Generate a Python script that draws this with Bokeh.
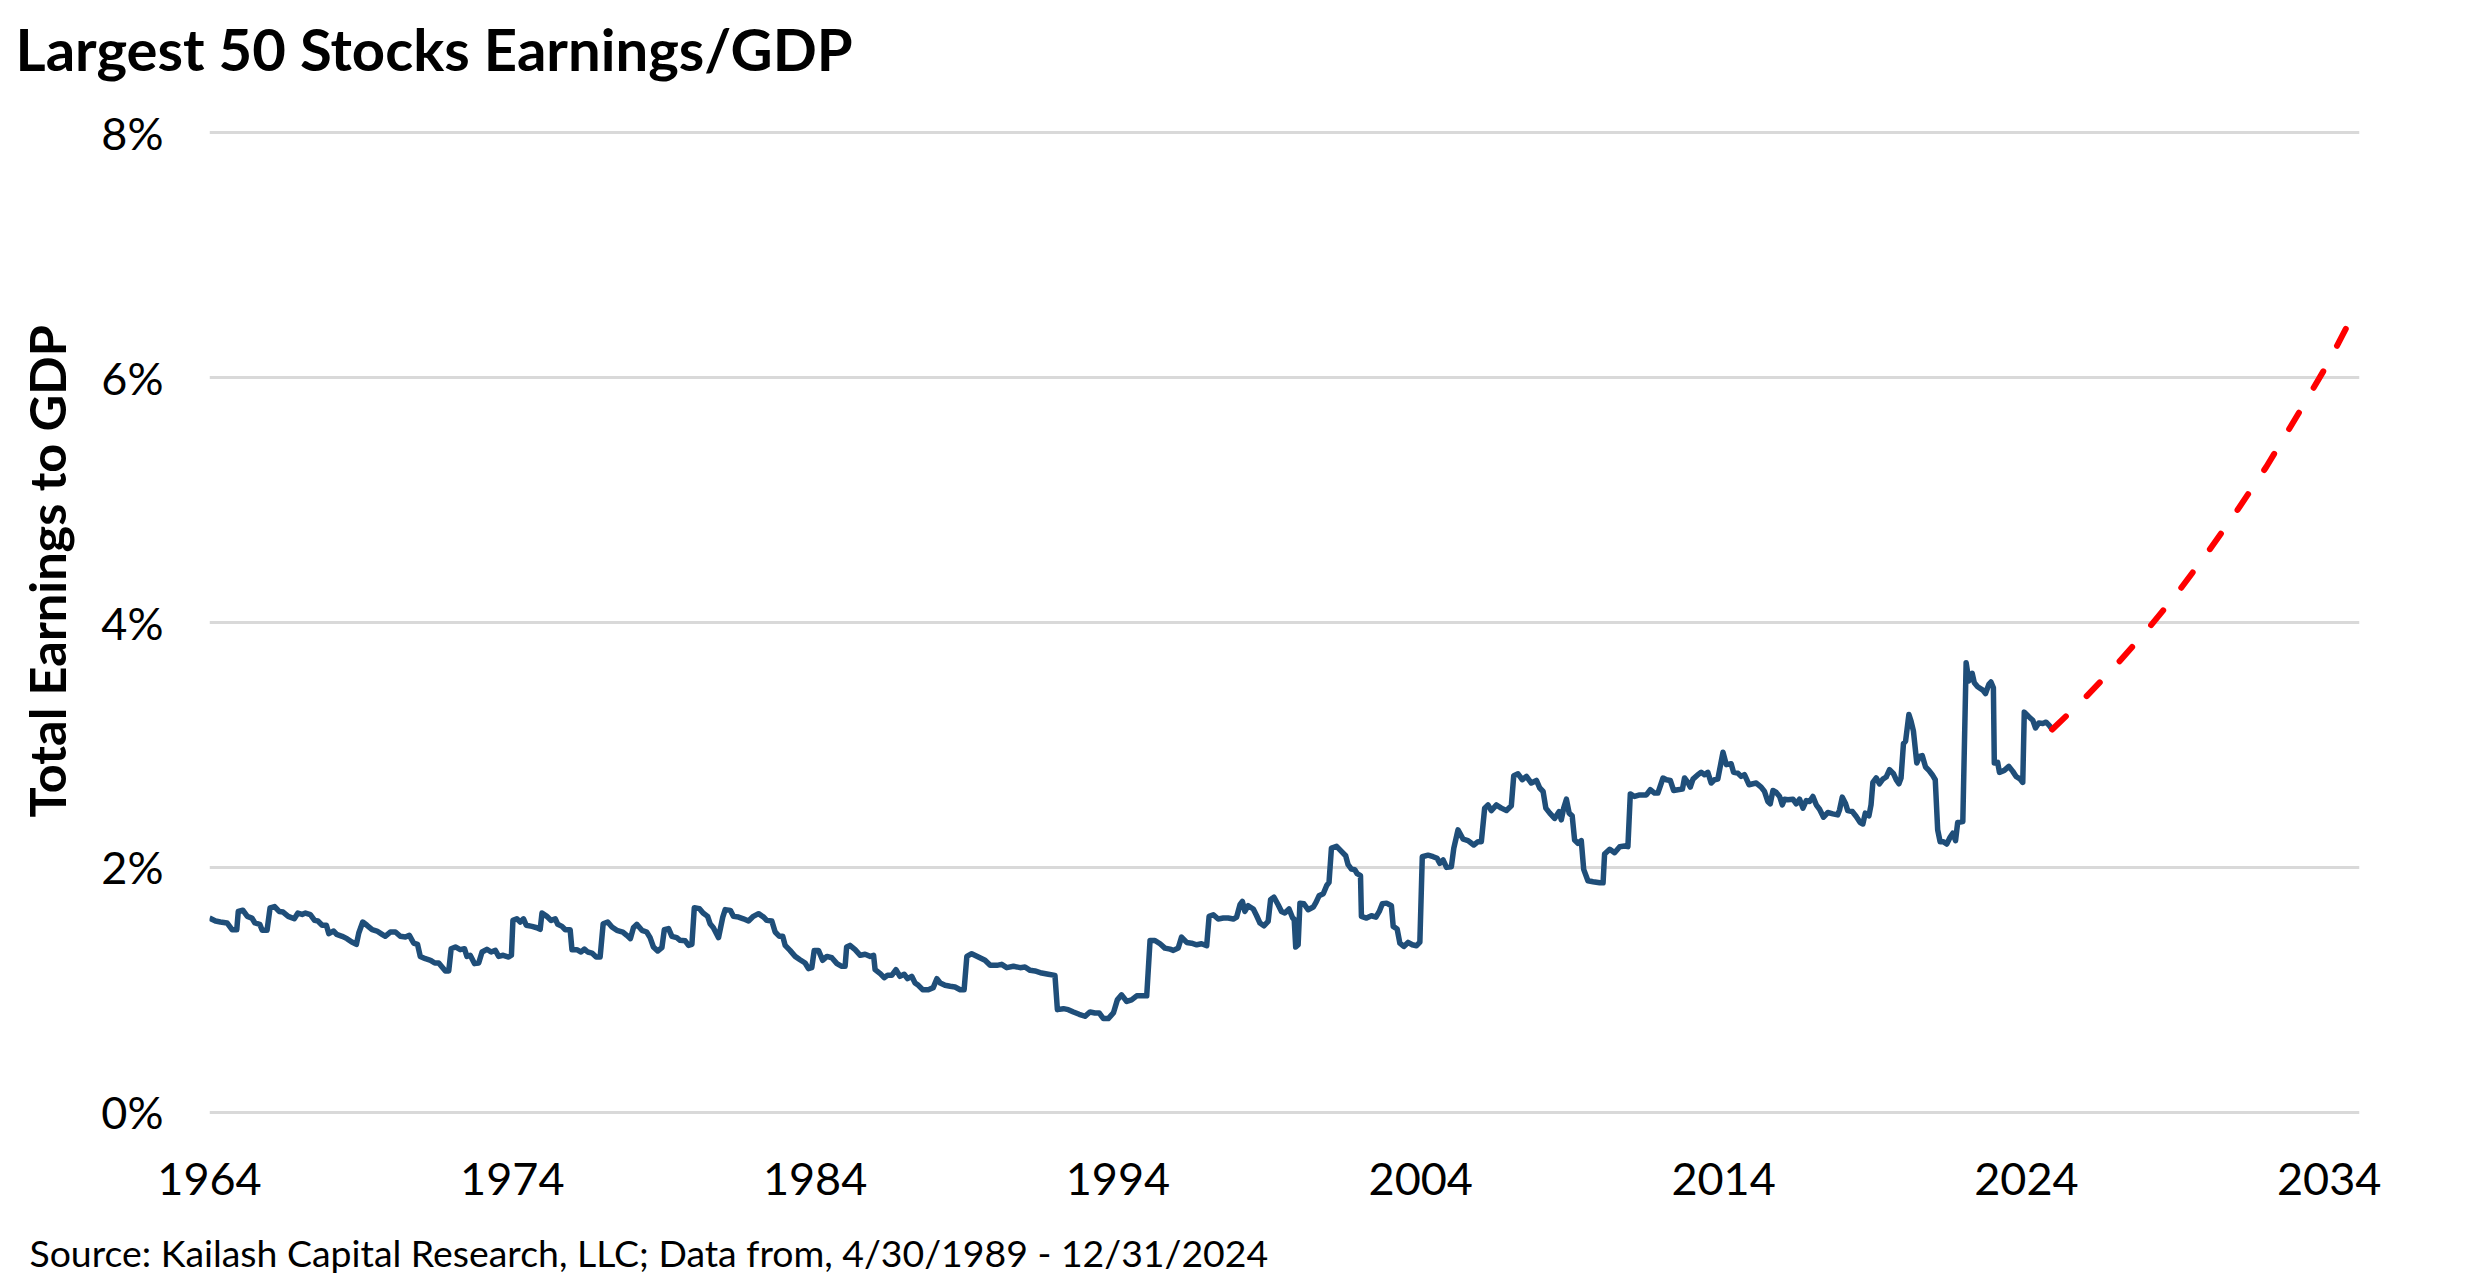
from bokeh.plotting import figure
from bokeh.models import Range1d, FixedTicker, PrintfTickFormatter, Title
from bokeh.embed import file_html
from bokeh.resources import INLINE

# ---------------- data ----------------
TITLE = "Largest 50 Stocks Earnings/GDP"
Y_LABEL = "Total Earnings to GDP"
SOURCE = "Source: Kailash Capital Research, LLC; Data from, 4/30/1989 - 12/31/2024"

X_TICKS = [1964, 1974, 1984, 1994, 2004, 2014, 2024, 2034]
Y_TICKS = [0, 2, 4, 6, 8]

YEARS_1964 = [1964.0,1964.2,1964.36,1964.58,1964.75,1964.9,1964.95,1965.1,1965.25,1965.4,1965.5,1965.66,1965.74,1965.9,1966.0,1966.15,1966.3,1966.43,1966.6,1966.8,1966.92,1967.06,1967.17,1967.33,1967.47,1967.58,1967.72,1967.86,1967.94,1968.1,1968.2,1968.38,1968.54,1968.7,1968.85,1968.93,1969.06,1969.2,1969.37,1969.53,1969.7,1969.8,1969.97,1970.14,1970.3,1970.47,1970.6,1970.74,1970.87,1970.96,1971.13,1971.3,1971.44,1971.57,1971.68,1971.79,1971.9,1971.98,1972.12,1972.28,1972.42,1972.5,1972.61,1972.75,1972.89,1973.0,1973.16,1973.3,1973.44,1973.55,1973.7,1973.88,1973.97]
VALS_1964 = [1.586,1.562,1.554,1.546,1.49,1.49,1.64,1.65,1.60,1.586,1.546,1.535,1.486,1.486,1.67,1.68,1.64,1.635,1.60,1.58,1.627,1.616,1.627,1.614,1.567,1.562,1.527,1.527,1.459,1.48,1.453,1.437,1.418,1.39,1.371,1.464,1.554,1.527,1.491,1.48,1.453,1.437,1.472,1.472,1.437,1.431,1.445,1.382,1.371,1.273,1.254,1.241,1.219,1.219,1.186,1.154,1.154,1.336,1.35,1.328,1.336,1.273,1.282,1.214,1.219,1.309,1.331,1.309,1.322,1.273,1.282,1.268,1.282]

YEARS_1974 = [1974.02,1974.15,1974.26,1974.37,1974.46,1974.65,1974.81,1974.92,1974.98,1975.14,1975.28,1975.42,1975.5,1975.64,1975.75,1975.91,1975.97,1976.13,1976.27,1976.38,1976.49,1976.63,1976.77,1976.9,1977.0,1977.15,1977.29,1977.45,1977.65,1977.78,1977.9,1978.0,1978.11,1978.28,1978.44,1978.55,1978.66,1978.8,1978.94,1979.02,1979.16,1979.27,1979.43,1979.54,1979.71,1979.82,1979.93,1980.01,1980.18,1980.3,1980.45,1980.53,1980.64,1980.81,1980.95,1981.03,1981.2,1981.3,1981.47,1981.63,1981.8,1981.96,1982.13,1982.3,1982.4,1982.57,1982.68,1982.82,1982.93,1983.01,1983.17,1983.34,1983.5,1983.67,1983.78,1983.89]
VALS_1974 = [1.567,1.58,1.554,1.58,1.527,1.518,1.507,1.494,1.627,1.60,1.567,1.58,1.535,1.518,1.491,1.491,1.328,1.328,1.309,1.333,1.309,1.30,1.268,1.268,1.54,1.554,1.513,1.486,1.472,1.445,1.418,1.507,1.535,1.486,1.472,1.426,1.35,1.317,1.344,1.491,1.50,1.437,1.426,1.404,1.40,1.363,1.371,1.671,1.663,1.627,1.60,1.54,1.507,1.426,1.594,1.655,1.649,1.60,1.594,1.58,1.562,1.60,1.622,1.594,1.567,1.562,1.472,1.437,1.437,1.363,1.322,1.273,1.246,1.219,1.173,1.181]

YEARS_1984 = [1983.97,1984.11,1984.25,1984.39,1984.55,1984.72,1984.88,1984.99,1985.04,1985.15,1985.32,1985.49,1985.65,1985.82,1985.93,1985.98,1986.15,1986.28,1986.39,1986.53,1986.67,1986.8,1986.94,1987.05,1987.19,1987.3,1987.41,1987.55,1987.74,1987.9,1988.02,1988.13,1988.29,1988.46,1988.62,1988.79,1988.92,1989.01,1989.17,1989.39,1989.61,1989.78,1990.0,1990.16,1990.33,1990.55,1990.77,1990.93,1991.1,1991.26,1991.48,1991.7,1991.92,1992.0,1992.2,1992.36,1992.53,1992.72,1992.91,1993.08,1993.24,1993.38,1993.52,1993.68,1993.85]
VALS_1984 = [1.322,1.322,1.241,1.273,1.262,1.214,1.192,1.192,1.35,1.363,1.328,1.282,1.29,1.273,1.282,1.165,1.132,1.099,1.118,1.118,1.165,1.11,1.127,1.091,1.11,1.056,1.037,1.001,1.001,1.018,1.091,1.056,1.037,1.029,1.023,1.001,1.001,1.273,1.295,1.268,1.241,1.20,1.20,1.208,1.181,1.192,1.181,1.186,1.159,1.154,1.137,1.127,1.118,0.838,0.846,0.838,0.819,0.80,0.784,0.819,0.811,0.811,0.765,0.765,0.811]

YEARS_1994 = [1993.98,1994.12,1994.29,1994.45,1994.62,1994.84,1994.95,1995.06,1995.22,1995.39,1995.55,1995.72,1995.83,1995.99,1996.1,1996.27,1996.43,1996.6,1996.76,1996.93,1997.01,1997.15,1997.31,1997.48,1997.64,1997.81,1997.92,1998.03,1998.11,1998.19,1998.3,1998.47,1998.58,1998.69,1998.82,1998.96,1999.04,1999.15,1999.29,1999.4,1999.51,1999.65,1999.77,1999.82,1999.87,1999.95,2000.01,2000.14,2000.28,2000.45,2000.54,2000.64,2000.78,2000.89,2000.97,2001.05,2001.22,2001.38,2001.52,2001.6,2001.71,2001.82,2001.9,2002.01,2002.04,2002.21,2002.37,2002.52,2002.63,2002.73,2002.87,2003.03,2003.09,2003.22,2003.31,2003.44,2003.58,2003.72,2003.86]
VALS_1994 = [0.918,0.959,0.905,0.918,0.951,0.951,0.951,1.403,1.403,1.376,1.341,1.332,1.322,1.341,1.43,1.387,1.381,1.368,1.376,1.36,1.60,1.613,1.578,1.586,1.586,1.578,1.594,1.695,1.722,1.64,1.687,1.66,1.605,1.545,1.523,1.559,1.736,1.757,1.695,1.64,1.627,1.66,1.586,1.578,1.349,1.368,1.708,1.703,1.654,1.676,1.714,1.768,1.785,1.85,1.877,2.158,2.172,2.131,2.095,2.022,1.986,1.981,1.948,1.932,1.60,1.586,1.605,1.594,1.64,1.703,1.708,1.687,1.518,1.496,1.381,1.354,1.387,1.368,1.36]

YEARS_2004 = [2003.97,2004.05,2004.24,2004.41,2004.54,2004.63,2004.74,2004.85,2005.01,2005.09,2005.23,2005.4,2005.56,2005.75,2005.89,2006.0,2006.11,2006.22,2006.33,2006.5,2006.66,2006.83,2006.99,2007.07,2007.21,2007.35,2007.49,2007.65,2007.82,2007.93,2008.04,2008.13,2008.26,2008.42,2008.57,2008.64,2008.72,2008.81,2008.9,2009.0,2009.08,2009.19,2009.3,2009.38,2009.52,2009.69,2009.91,2010.02,2010.07,2010.24,2010.4,2010.57,2010.73,2010.84,2010.92,2011.06,2011.23,2011.45,2011.58,2011.72,2011.83,2012.0,2012.11,2012.24,2012.35,2012.49,2012.64,2012.71,2012.82,2012.9,2012.99,2013.15,2013.26,2013.37,2013.48,2013.59,2013.7,2013.81]
VALS_2004 = [1.39,2.087,2.10,2.087,2.074,2.033,2.06,2.0,2.005,2.156,2.306,2.23,2.219,2.183,2.21,2.21,2.484,2.51,2.464,2.51,2.484,2.464,2.503,2.749,2.765,2.716,2.743,2.689,2.71,2.648,2.62,2.484,2.443,2.40,2.456,2.388,2.484,2.557,2.443,2.421,2.224,2.197,2.219,1.984,1.891,1.883,1.874,1.874,2.109,2.148,2.12,2.169,2.175,2.169,2.60,2.579,2.592,2.592,2.634,2.607,2.607,2.73,2.716,2.71,2.628,2.634,2.639,2.73,2.694,2.656,2.721,2.757,2.776,2.757,2.776,2.689,2.716,2.721]

YEARS_2014 = [2013.98,2014.09,2014.25,2014.33,2014.47,2014.58,2014.69,2014.84,2014.97,2015.08,2015.24,2015.35,2015.46,2015.54,2015.63,2015.74,2015.85,2015.94,2016.01,2016.12,2016.29,2016.4,2016.51,2016.62,2016.73,2016.84,2016.95,2017.06,2017.17,2017.3,2017.44,2017.61,2017.77,2017.83,2017.92,2018.03,2018.1,2018.25,2018.38,2018.51,2018.6,2018.68,2018.8,2018.87,2018.93,2019.04,2019.15,2019.26,2019.37,2019.48,2019.61,2019.7,2019.79,2019.86,2019.94,2020.01,2020.12,2020.19,2020.27,2020.38,2020.47,2020.56,2020.67,2020.78,2020.89,2020.99,2021.07,2021.15,2021.26,2021.37,2021.48,2021.57,2021.66,2021.73,2021.9,2022.01,2022.1,2022.21,2022.28,2022.39,2022.56,2022.65,2022.76,2022.83,2022.91,2022.94,2023.05,2023.11,2023.27,2023.42,2023.55,2023.66,2023.79,2023.88,2023.93,2024.08,2024.21,2024.3,2024.41,2024.54,2024.65,2024.76,2024.85]
VALS_2014 = [2.94,2.839,2.847,2.776,2.77,2.743,2.757,2.675,2.683,2.689,2.656,2.62,2.538,2.519,2.628,2.612,2.579,2.511,2.557,2.552,2.557,2.519,2.557,2.484,2.546,2.538,2.579,2.511,2.475,2.41,2.448,2.437,2.429,2.47,2.574,2.519,2.464,2.456,2.415,2.366,2.355,2.443,2.421,2.511,2.694,2.73,2.683,2.721,2.738,2.798,2.765,2.716,2.683,2.73,3.011,3.03,3.249,3.194,3.112,2.852,2.907,2.913,2.82,2.792,2.757,2.716,2.306,2.21,2.21,2.191,2.246,2.279,2.219,2.366,2.374,3.672,3.522,3.585,3.508,3.475,3.448,3.42,3.495,3.514,3.467,2.852,2.858,2.776,2.792,2.825,2.784,2.743,2.721,2.694,3.268,3.23,3.202,3.139,3.18,3.175,3.186,3.158,3.126]

PROJ_YEARS = [2024.85, 2025.92, 2026.92, 2027.92, 2028.92, 2029.92, 2030.92, 2031.92, 2032.92, 2033.92, 2034.7]
PROJ_VALS = [3.126, 3.38, 3.64, 3.92, 4.22, 4.55, 4.90, 5.27, 5.68, 6.10, 6.47]

# ---------------- assemble ----------------
hist_x, hist_y = [], []
for ys, vs in [(YEARS_1964, VALS_1964), (YEARS_1974, VALS_1974), (YEARS_1984, VALS_1984),
               (YEARS_1994, VALS_1994), (YEARS_2004, VALS_2004), (YEARS_2014, VALS_2014)]:
    for a, b in zip(ys, vs):
        hist_x.append(a)
        hist_y.append(b)

FONT = "Lato"
W, H = 2467, 1279
FRAME_L, FRAME_R, FRAME_T, FRAME_B = 209, 2359, 120, 1124

p = figure(width=W, height=H,
           x_range=Range1d(1964, 2035), y_range=Range1d(-0.1, 8.1),
           output_backend="svg", toolbar_location=None,
           min_border_left=FRAME_L, min_border_right=W - FRAME_R,
           min_border_top=FRAME_T, min_border_bottom=H - FRAME_B)
p.outline_line_color = None
p.background_fill_color = "white"
p.border_fill_color = "white"

p.line(hist_x, hist_y, line_color="#1F4E79", line_width=5.5, line_join="round")
p.line(PROJ_YEARS, PROJ_VALS, line_color="#FF0000", line_width=6,
       line_dash="19 29", line_cap="round", line_join="round")

# axes
p.xaxis.ticker = FixedTicker(ticks=X_TICKS)
p.xaxis.formatter = PrintfTickFormatter(format="%d")
p.yaxis.ticker = FixedTicker(ticks=Y_TICKS)
p.yaxis.formatter = PrintfTickFormatter(format="%d%%")
for ax in (p.xaxis[0], p.yaxis[0]):
    ax.axis_line_color = None
    ax.major_tick_line_color = None
    ax.minor_tick_line_color = None
    ax.major_tick_out = 0
    ax.major_tick_in = 0
    ax.major_label_text_font = FONT
    ax.major_label_text_font_size = "45px"
    ax.major_label_text_color = "#000000"
p.xaxis.major_label_standoff = 38
p.yaxis.major_label_standoff = 46

p.xgrid.visible = False
p.ygrid.ticker = FixedTicker(ticks=Y_TICKS)
p.ygrid.grid_line_color = "#D9D9D9"
p.ygrid.grid_line_width = 3


def spacer(size_standoff):
    return Title(text=" ", text_font=FONT, text_font_size="10px",
                 standoff=size_standoff, text_color="white")


# top: spacer next to the frame, then the chart title
p.add_layout(spacer(24), "above")
p.add_layout(Title(text=TITLE, align="left", offset=15 - FRAME_L, standoff=0,
                   vertical_align="bottom",
                   text_font=FONT, text_font_size="58px", text_font_style="bold",
                   text_color="#000000"), "above")

# left: y axis, spacer, then the vertical axis title
p.add_layout(spacer(8), "left")
p.add_layout(Title(text=Y_LABEL, align="left", offset=307, standoff=0,
                   vertical_align="bottom",
                   text_font=FONT, text_font_size="50.5px", text_font_style="bold",
                   text_color="#000000"), "left")

# bottom: x axis, spacer, then the source note
p.add_layout(spacer(18), "below")
p.add_layout(Title(text=SOURCE, align="left", offset=29 - FRAME_L, standoff=0,
                   vertical_align="top",
                   text_font=FONT, text_font_size="37.4px", text_font_style="normal",
                   text_color="#000000"), "below")

open("out.html", "w").write(file_html(p, INLINE))
